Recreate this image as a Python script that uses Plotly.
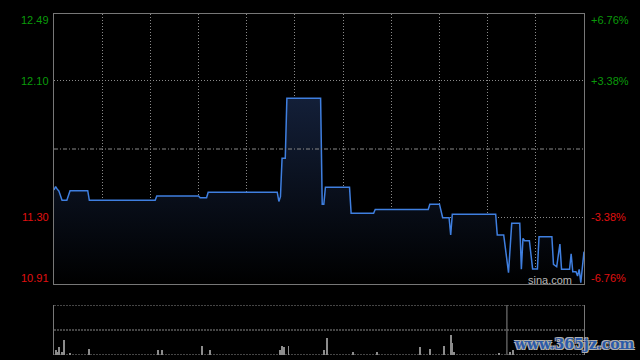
import plotly.graph_objects as go

# ---- data (minutes since open, HK session 330 min) ----
minutes = [0, 1, 2, 3, 5, 8, 10, 21, 22, 63, 64, 90, 91, 95, 96, 139, 140, 141, 142, 144,
           145, 166, 167, 168, 169, 184, 185, 199, 200, 233, 234, 240, 242, 246, 247, 248,
           275, 276, 280, 283, 285, 290, 291, 292, 293, 296, 298, 301, 302, 310, 311, 313,
           315, 316, 321, 322, 323, 325, 326, 327, 328, 330]
prices = [11.46, 11.48, 11.465, 11.455, 11.40, 11.40, 11.456, 11.456, 11.40, 11.40, 11.425,
          11.425, 11.415, 11.415, 11.447, 11.447, 11.393, 11.421, 11.646, 11.646,
          11.997, 11.997, 11.376, 11.376, 11.476, 11.476, 11.324, 11.324, 11.346, 11.346,
          11.377, 11.377, 11.298, 11.298, 11.197, 11.318, 11.318, 11.197, 11.197, 10.976,
          11.265, 11.265, 10.996, 11.177, 11.163, 11.163, 10.998, 10.998, 11.187, 11.187,
          11.025, 11.011, 11.144, 10.996, 10.996, 11.086, 10.982, 10.982, 10.957, 10.996,
          10.918, 11.099]

vol_minutes = [1, 2, 3, 5, 6, 10, 22, 65, 67, 92, 97, 141, 142, 143, 146, 168, 170, 186,
               201, 228, 234, 243, 247, 248, 249, 277, 284, 286]
vol_values = [5, 3, 8, 3, 15, 2, 6, 5, 5, 9, 5, 5, 9, 8, 9, 5, 17, 3, 3, 8, 6, 9, 20, 12,
              3, 2, 3, 5]

prev_close = 11.70
price_ticks = [12.49, 12.10, 11.30, 10.91]
price_labels = ["12.49", "12.10", "11.30", "10.91"]
pct_labels = ["+6.76%", "+3.38%", "-3.38%", "-6.76%"]
label_colors = ["#0a9a0a", "#0a9a0a", "#e01010", "#e01010"]
label_shifts = [-6, 0, 0, 6]
time_grid = [30, 60, 90, 120, 150, 180, 210, 240, 270, 300]
cursor_minute = 282

W, H = 640, 360
XL, XR = 54, 584
MT, MB = 14, 284
VT, VB = 305, 355

fig = go.Figure()

fig.add_trace(go.Scatter(
    x=minutes, y=prices, mode="lines",
    line=dict(color="#3f7fe0", width=1.5),
    fill="tozeroy",
    fillgradient=dict(type="vertical",
                      colorscale=[[0, "#000000"], [1, "#131f38"]],
                      start=price_ticks[-1], stop=12.0),
    xaxis="x", yaxis="y", hoverinfo="skip", showlegend=False,
))

fig.add_trace(go.Bar(
    x=vol_minutes, y=vol_values, width=0.6,
    marker=dict(color="#8c8c8c", line=dict(width=0)),
    xaxis="x2", yaxis="y2", showlegend=False, hoverinfo="skip",
))

fig.update_layout(
    width=W, height=H,
    margin=dict(l=0, r=0, t=0, b=0),
    paper_bgcolor="#000000", plot_bgcolor="#000000",
    showlegend=False,
    bargap=0,
    xaxis=dict(domain=[XL / W, XR / W], range=[0, 330],
               tickvals=time_grid, showticklabels=False, ticks="",
               showgrid=True, gridcolor="#8a8a8a", griddash="1px,2px", gridwidth=1,
               zeroline=False, showline=True, mirror=True, linecolor="#777777",
               linewidth=1, fixedrange=True),
    yaxis=dict(domain=[1 - MB / H, 1 - MT / H],
               range=[price_ticks[-1], price_ticks[0]],
               tickvals=[price_ticks[1], price_ticks[2]], showticklabels=False,
               ticks="", showgrid=True, gridcolor="#8a8a8a", griddash="1px,2px",
               zeroline=False, showline=True, mirror=True, linecolor="#777777",
               linewidth=1, fixedrange=True),
    xaxis2=dict(domain=[XL / W, XR / W], range=[0, 330], anchor="y2",
                showticklabels=False, ticks="", showgrid=False, zeroline=False,
                showline=False, fixedrange=True),
    yaxis2=dict(domain=[1 - VB / H, 1 - VT / H], range=[0, 50], anchor="x2",
                showticklabels=False, ticks="", showgrid=False, zeroline=False,
                showline=True, mirror=True, linecolor="#777777", linewidth=1,
                fixedrange=True),
)

shapes = []
# previous close dash-dot line
shapes.append(dict(type="line", xref="x domain", yref="y", x0=0, x1=1,
                   y0=prev_close, y1=prev_close,
                   line=dict(color="#8a8a8a", width=1, dash="4px,2px,1px,2px")))
# volume panel dotted lines
for v in [0, 25, 50]:
    shapes.append(dict(type="line", xref="x2 domain", yref="y2", x0=0, x1=1,
                       y0=v, y1=v, line=dict(color="#8a8a8a", width=1, dash="2px,1px")))
# cursor line
shapes.append(dict(type="line", xref="x2", yref="y2 domain", x0=cursor_minute,
                   x1=cursor_minute, y0=0, y1=1,
                   line=dict(color="#8a8a8a", width=1)))
fig.update_layout(shapes=shapes)

annotations = []
for p, lab, pct, col, sh in zip(price_ticks, price_labels, pct_labels, label_colors, label_shifts):
    annotations.append(dict(x=51 / W, xref="paper", y=p, yref="y", text=lab,
                            xanchor="right", yanchor="middle", yshift=sh,
                            showarrow=False,
                            font=dict(family="Liberation Sans, Arial", size=11, color=col)))
    annotations.append(dict(x=589 / W, xref="paper", y=p, yref="y", text=pct,
                            xanchor="left", yanchor="middle", yshift=sh,
                            showarrow=False,
                            font=dict(family="Liberation Sans, Arial", size=11, color=col)))
annotations.append(dict(x=574 / W, xref="paper", y=1 - 279.5 / H, yref="paper",
                        text="sina.com", xanchor="right", yanchor="middle",
                        showarrow=False,
                        font=dict(family="Liberation Sans, Arial", size=11, color="#b8b8b8")))
annotations.append(dict(x=574 / W, xref="paper", y=1 - 343.5 / H, yref="paper",
                        text="www.365jz.com", xanchor="center", yanchor="middle",
                        showarrow=False,
                        font=dict(family="DejaVu Serif", size=14, color="#2b5aa8",
                                  weight="bold",
                                  shadow="1px 1px 0 #b0b0b0, -1px -1px 0 #b0b0b0, 1px -1px 0 #b0b0b0, -1px 1px 0 #b0b0b0")))
fig.update_layout(annotations=annotations)

fig.write_html("out.html")
